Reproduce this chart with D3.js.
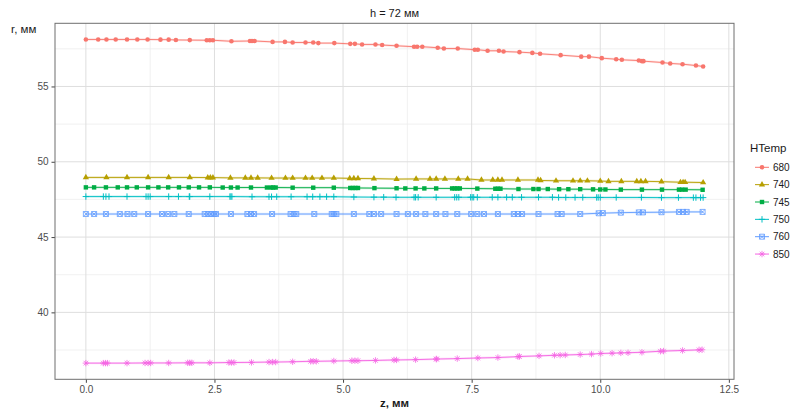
<!DOCTYPE html>
<html><head><meta charset="utf-8">
<script src="https://cdn.jsdelivr.net/npm/d3@7"></script>
<style>body{margin:0;background:#fff} text{font-family:"Liberation Sans",Arial,sans-serif}</style>
</head><body><svg id="c" width="790" height="410"></svg>
<script>
const titleText = "h = 72 мм";
const xTitle = "z, мм";
const yTitle = "r, мм";
const legendTitle = "HTemp";
const seriesNames = ["680","740","745","750","760","850"];
const seriesColors = ["#F8766D","#B79F00","#00AD45","#00BFC4","#619CFF","#F564E3"];
const xTicks = [0,2.5,5,7.5,10,12.5];
const xMinor = [1.25,3.75,6.25,8.75,11.25];
const yTicks = [40,45,50,55];
const yMinor = [37.5,42.5,47.5,52.5,57.5];

const z680 = [0,0.24,0.40,0.58,0.80,1.00,1.20,1.45,1.61,1.75,2.02,2.35,2.41,2.47,2.83,3.19,3.23,3.28,3.63,3.87,4.02,4.27,4.42,4.52,4.83,5.14,5.23,5.37,5.63,5.76,6.04,6.38,6.44,6.54,6.84,6.96,7.23,7.56,7.62,7.81,8.03,8.12,8.43,8.68,8.83,9.23,9.63,9.78,10.03,10.31,10.42,10.75,10.81,10.84,11.21,11.36,11.60,11.86,12.0];
const r680 = [58.12,58.12,58.12,58.12,58.12,58.12,58.12,58.11,58.11,58.09,58.08,58.07,58.07,58.07,58.00,58.02,58.02,58.02,57.96,57.96,57.92,57.92,57.92,57.88,57.88,57.83,57.83,57.79,57.79,57.75,57.70,57.64,57.64,57.64,57.57,57.52,57.52,57.44,57.44,57.37,57.37,57.32,57.28,57.23,57.17,57.08,56.98,56.98,56.88,56.81,56.77,56.72,56.68,56.68,56.59,56.53,56.48,56.39,56.33];

const z740 = [0,0.40,0.80,1.21,1.61,2.02,2.37,2.42,2.47,2.81,3.10,3.21,3.34,3.61,3.88,4.02,4.27,4.40,4.59,4.82,5.13,5.21,5.29,5.60,6.04,6.42,6.69,6.81,6.98,7.24,7.42,7.69,7.91,8.01,8.09,8.40,8.79,8.84,9.14,9.47,9.61,9.75,10.0,10.16,10.41,10.71,10.79,10.88,11.19,11.56,11.61,11.65,12.0];
const r740 = [48.96,48.96,48.96,48.96,48.96,48.96,48.95,48.95,48.95,48.93,48.93,48.93,48.93,48.92,48.92,48.92,48.92,48.92,48.92,48.92,48.90,48.89,48.89,48.88,48.85,48.86,48.86,48.86,48.86,48.86,48.86,48.79,48.79,48.79,48.79,48.79,48.79,48.76,48.74,48.74,48.74,48.74,48.72,48.70,48.70,48.70,48.70,48.70,48.68,48.64,48.64,48.64,48.62];

const z745 = [0,0.16,0.39,0.62,0.80,0.99,1.21,1.41,1.60,1.81,2.00,2.20,2.41,2.66,2.82,2.95,3.21,3.52,3.60,3.64,3.69,4.02,4.42,4.82,5.14,5.19,5.24,5.29,5.61,6.04,6.21,6.41,6.58,6.81,7.12,7.17,7.22,7.27,7.61,7.96,8.01,8.06,8.41,8.70,8.80,8.98,9.20,9.38,9.61,9.86,10.0,10.10,10.40,10.81,11.20,11.53,11.59,11.66,11.99];
const r745 = [48.30,48.30,48.30,48.30,48.30,48.30,48.30,48.30,48.30,48.30,48.30,48.30,48.30,48.29,48.29,48.29,48.29,48.29,48.29,48.29,48.29,48.28,48.28,48.28,48.26,48.26,48.26,48.26,48.25,48.24,48.23,48.23,48.23,48.23,48.23,48.23,48.23,48.23,48.22,48.21,48.21,48.21,48.19,48.19,48.19,48.19,48.18,48.18,48.18,48.17,48.16,48.16,48.15,48.15,48.15,48.15,48.15,48.15,48.14];

const z750 = [0,0.34,0.39,0.45,0.80,1.17,1.21,1.25,1.61,1.80,2.01,2.02,2.41,2.80,2.82,2.84,3.23,3.56,3.61,3.71,3.99,4.30,4.41,4.55,4.68,4.82,5.21,5.60,5.79,6.03,6.38,6.41,6.46,6.81,7.17,7.21,7.25,7.48,7.51,7.54,7.61,7.90,8.01,8.18,8.29,8.47,8.80,9.07,9.19,9.33,9.51,9.66,9.93,9.96,10.0,10.31,10.80,11.19,11.52,11.81,11.86,11.95,12.0];
const r750 = [47.69,47.69,47.69,47.69,47.69,47.69,47.69,47.69,47.69,47.69,47.69,47.69,47.69,47.69,47.69,47.69,47.68,47.68,47.68,47.68,47.68,47.68,47.68,47.68,47.68,47.68,47.66,47.65,47.65,47.64,47.64,47.64,47.64,47.64,47.64,47.64,47.64,47.64,47.64,47.64,47.64,47.64,47.64,47.64,47.64,47.64,47.64,47.64,47.63,47.63,47.63,47.63,47.63,47.63,47.63,47.63,47.63,47.62,47.62,47.62,47.62,47.62,47.62];

const z760 = [0,0.16,0.39,0.66,0.81,0.94,1.21,1.48,1.60,1.72,2.00,2.31,2.37,2.43,2.49,2.53,2.82,3.14,3.21,3.27,3.62,3.98,4.04,4.09,4.44,4.78,4.82,4.87,5.21,5.51,5.60,5.74,6.04,6.26,6.42,6.60,6.81,6.99,7.22,7.49,7.61,7.74,8.01,8.32,8.40,8.48,8.80,9.17,9.25,9.61,9.97,10.05,10.40,10.75,10.83,11.19,11.53,11.61,11.68,11.99];
const r760 = [46.53,46.53,46.53,46.53,46.53,46.53,46.53,46.53,46.53,46.53,46.53,46.53,46.53,46.53,46.53,46.53,46.53,46.53,46.53,46.53,46.53,46.53,46.53,46.53,46.53,46.53,46.53,46.53,46.53,46.53,46.53,46.53,46.53,46.53,46.53,46.53,46.53,46.53,46.53,46.53,46.53,46.53,46.53,46.53,46.53,46.53,46.53,46.53,46.53,46.53,46.58,46.59,46.62,46.64,46.64,46.65,46.67,46.67,46.67,46.67];

const z850 = [0,0.34,0.38,0.42,0.80,1.15,1.21,1.26,1.61,1.98,2.02,2.06,2.41,2.78,2.83,2.88,3.22,3.56,3.63,3.69,4.02,4.37,4.42,4.48,4.82,5.17,5.23,5.29,5.63,5.99,6.04,6.41,6.81,6.82,7.22,7.62,8.01,8.40,8.43,8.81,9.11,9.22,9.32,9.61,9.83,10.01,10.23,10.40,10.54,10.81,11.17,11.23,11.60,11.92,11.98];
const r850 = [36.63,36.63,36.63,36.63,36.63,36.64,36.64,36.64,36.64,36.65,36.65,36.65,36.65,36.67,36.67,36.67,36.68,36.70,36.70,36.70,36.72,36.75,36.75,36.75,36.77,36.79,36.79,36.79,36.81,36.84,36.84,36.86,36.90,36.90,36.93,36.97,37.00,37.06,37.07,37.11,37.15,37.16,37.17,37.20,37.23,37.27,37.29,37.31,37.32,37.35,37.42,37.43,37.47,37.51,37.52];

const zs = [z680,z740,z745,z750,z760,z850];
const rs = [r680,r740,r745,r750,r760,r850];
const data = seriesNames.map((n,i)=>({name:n,color:seriesColors[i],pts:zs[i].map((z,j)=>({z, r:rs[i][j]}))}));

const svg = d3.select("#c");
const L=55, R=734, T=23.3, B=379.3;
const allR = rs.flat();
const rmin=d3.min(allR), rmax=d3.max(allR), rpad=(rmax-rmin)*0.05;
const x = d3.scaleLinear().domain([-0.6,12.6]).range([L,R]);
const y = d3.scaleLinear().domain([rmin-rpad,rmax+rpad]).range([B,T]);

const g = svg.append("g");
g.selectAll(".xm").data(xMinor).join("line").attr("x1",d=>x(d)).attr("x2",d=>x(d)).attr("y1",T).attr("y2",B).attr("stroke","#EDEDED").attr("stroke-width",0.8);
g.selectAll(".ym").data(yMinor).join("line").attr("y1",d=>y(d)).attr("y2",d=>y(d)).attr("x1",L).attr("x2",R).attr("stroke","#EDEDED").attr("stroke-width",0.8);
g.selectAll(".xg").data(xTicks).join("line").attr("x1",d=>x(d)).attr("x2",d=>x(d)).attr("y1",T).attr("y2",B).attr("stroke","#DEDEDE").attr("stroke-width",1);
g.selectAll(".yg").data(yTicks).join("line").attr("y1",d=>y(d)).attr("y2",d=>y(d)).attr("x1",L).attr("x2",R).attr("stroke","#DEDEDE").attr("stroke-width",1);

const xa = svg.append("g").attr("transform",`translate(0,${B})`).call(d3.axisBottom(x).tickValues(xTicks).tickFormat(d3.format(".1f")).tickSize(3.5).tickPadding(3));
const ya = svg.append("g").attr("transform",`translate(${L},0)`).call(d3.axisLeft(y).tickValues(yTicks).tickFormat(d3.format("d")).tickSize(3.5).tickPadding(3));
[xa,ya].forEach(a=>{a.select(".domain").remove();a.selectAll("line").attr("stroke","#444");a.selectAll("text").attr("fill","#4D4D4D").style("font-size","10px").style("font-family","'Liberation Sans',Arial,sans-serif");});

const line = d3.line().x(d=>x(d.z)).y(d=>y(d.r));
const shapes = [
  (s,c)=>s.append("circle").attr("r",2.3).attr("fill",c),
  (s,c)=>s.append("path").attr("d",d3.symbol(d3.symbolTriangle,17)()).attr("fill",c),
  (s,c)=>s.append("rect").attr("x",-2.2).attr("y",-2.2).attr("width",4.4).attr("height",4.4).attr("fill",c),
  (s,c)=>s.append("path").attr("d","M-3.2,0H3.2M0,-3.2V3.2").attr("stroke",c).attr("stroke-width",1).attr("fill","none"),
  (s,c)=>s.append("path").attr("d","M-2.5,-2.5H2.5V2.5H-2.5ZM-2.5,-2.5L2.5,2.5M2.5,-2.5L-2.5,2.5").attr("stroke",c).attr("stroke-width",0.8).attr("fill","none"),
  (s,c)=>s.append("path").attr("d","M-3.2,0H3.2M0,-3.2V3.2M-2.3,-2.3L2.3,2.3M2.3,-2.3L-2.3,2.3").attr("stroke",c).attr("stroke-width",0.8).attr("fill","none")
];
data.forEach((s,i)=>{
  svg.append("path").datum(s.pts).attr("d",line).attr("fill","none").attr("stroke",s.color).attr("stroke-width",2.4).attr("opacity",0.18);
  svg.append("path").datum(s.pts).attr("d",line).attr("fill","none").attr("stroke",s.color).attr("stroke-width",0.9);
  s.pts.forEach(p=>{
    const gg = svg.append("g").attr("transform",`translate(${x(p.z)},${y(p.r)})`);
    shapes[i](gg,s.color);
  });
});

svg.append("rect").attr("x",L).attr("y",T).attr("width",R-L).attr("height",B-T).attr("fill","none").attr("stroke","#6e6e6e").attr("stroke-width",1);

svg.append("text").attr("x",(L+R)/2).attr("y",17).attr("text-anchor","middle").attr("fill","#1a1a1a").style("font-size","11px").text(titleText);
svg.append("text").attr("x",(L+R)/2).attr("y",407).attr("text-anchor","middle").attr("fill","#1a1a1a").style("font-size","11.5px").style("font-weight","bold").text(xTitle);
svg.append("text").attr("x",11).attr("y",33).attr("fill","#1a1a1a").style("font-size","11.5px").text(yTitle);

const lg = svg.append("g");
lg.append("text").attr("x",750).attr("y",152).attr("fill","#1a1a1a").style("font-size","11.5px").text(legendTitle);
data.forEach((s,i)=>{
  const cy = 167.3 + i*17.35;
  lg.append("line").attr("x1",755).attr("x2",769).attr("y1",cy).attr("y2",cy).attr("stroke",s.color).attr("stroke-width",1);
  const gg = lg.append("g").attr("transform",`translate(762,${cy})`);
  shapes[i](gg,s.color);
  lg.append("text").attr("x",773).attr("y",cy+3.5).attr("fill","#1a1a1a").style("font-size","10px").text(s.name);
});
</script></body></html>
